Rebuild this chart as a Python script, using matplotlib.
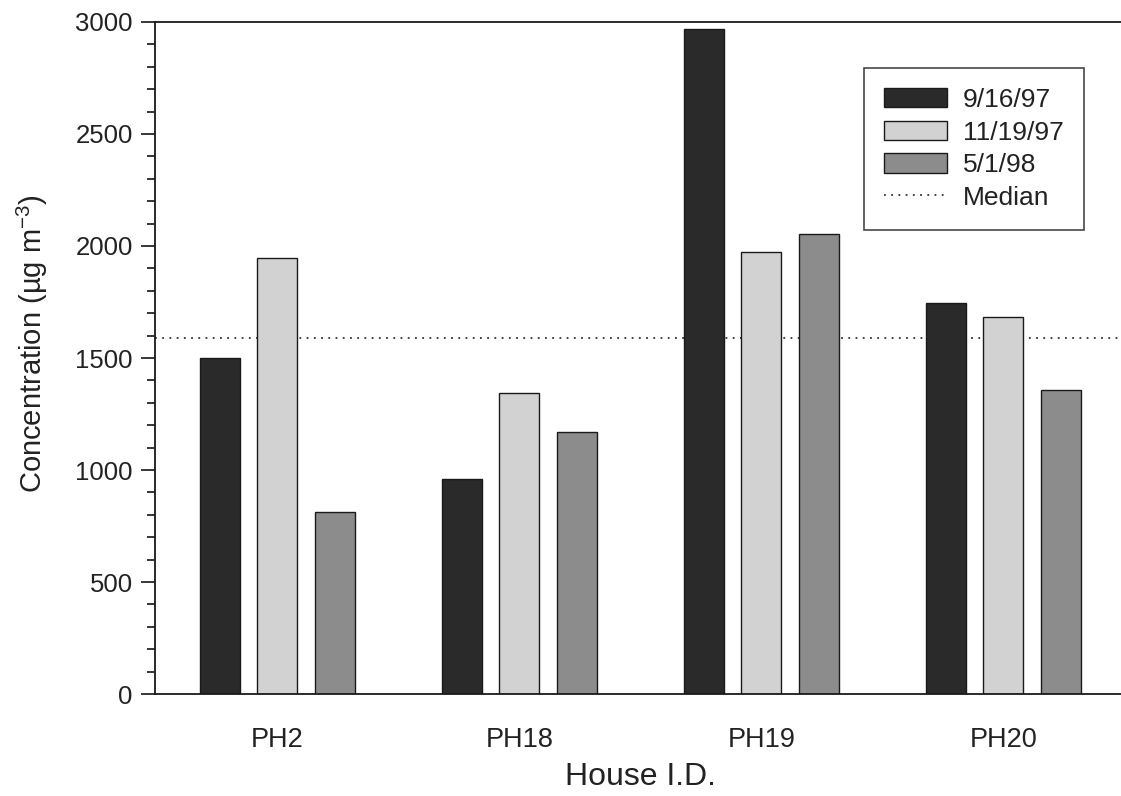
import numpy as np
import matplotlib.pyplot as plt
from matplotlib.ticker import MultipleLocator
from matplotlib.lines import Line2D
from matplotlib.patches import Patch

plt.rcParams['font.family'] = ['Liberation Sans', 'DejaVu Sans']
plt.rcParams['mathtext.default'] = 'regular'

houses = ["PH2", "PH18", "PH19", "PH20"]
dates = ["9/16/97", "11/19/97", "5/1/98"]
sep97 = [1500, 960, 2970, 1745]
nov97 = [1945, 1345, 1973, 1683]
may98 = [812, 1170, 2054, 1355]
median = 1590

colors = ["#2a2a2a", "#d2d2d2", "#8c8c8c"]

fig = plt.figure(figsize=(11.21, 7.96), dpi=100)
ax = fig.add_axes([0.1383, 0.1281, 0.8627, 0.8443])

x = np.arange(len(houses))
width = 0.165
step = 0.2376
for i, vals in enumerate([sep97, nov97, may98]):
    ax.bar(x + (i - 1) * step, vals, width, color=colors[i],
           edgecolor="#1a1a1a", linewidth=1.0, zorder=2)

ax.axhline(median, color="#333333", linestyle=(0, (1, 3)), linewidth=1.3, zorder=1)

ax.set_xlim(-0.504, 3.49)
ax.set_ylim(0, 3000)
ax.set_xticks(x)
ax.set_xticklabels(houses)
ax.yaxis.set_major_locator(MultipleLocator(500))
ax.yaxis.set_minor_locator(MultipleLocator(100))
ax.tick_params(axis="x", length=0, pad=24, labelsize=19.5, labelcolor="#222222")
ax.tick_params(axis="y", which="major", length=10, width=1.1, pad=6,
               labelsize=18.5, labelcolor="#222222")
ax.tick_params(axis="y", which="minor", length=6, width=1.1)

for side in ["left", "bottom", "top"]:
    ax.spines[side].set_linewidth(1.3)
    ax.spines[side].set_color("#1a1a1a")
ax.spines["right"].set_visible(False)

ax.set_ylabel("Concentration (µg m$^{-3}$)", fontsize=21, color="#222222",
              va="center", ha="center")
ax.yaxis.set_label_coords(-0.1263, 0.521)
ax.set_xlabel("House I.D.", fontsize=23, color="#222222", va="center", ha="center")
ax.xaxis.set_label_coords(0.502, -0.1235)

handles = [Patch(facecolor=c, edgecolor="#1a1a1a", linewidth=1.0) for c in colors]
handles.append(Line2D([0], [0], color="#333333", linestyle=(0, (1, 3)), linewidth=1.3))
leg = ax.legend(handles, dates + ["Median"], loc="upper left",
                bbox_to_anchor=(0.733, 0.9315), borderaxespad=0, fontsize=19,
                frameon=True, fancybox=False, edgecolor="#1a1a1a",
                handlelength=2.4, handleheight=0.75, labelspacing=0.33,
                borderpad=0.75, handletextpad=0.6)
leg.get_frame().set_linewidth(1.2)
for t in leg.get_texts():
    t.set_color("#222222")

fig.savefig("out.png", dpi=100)
